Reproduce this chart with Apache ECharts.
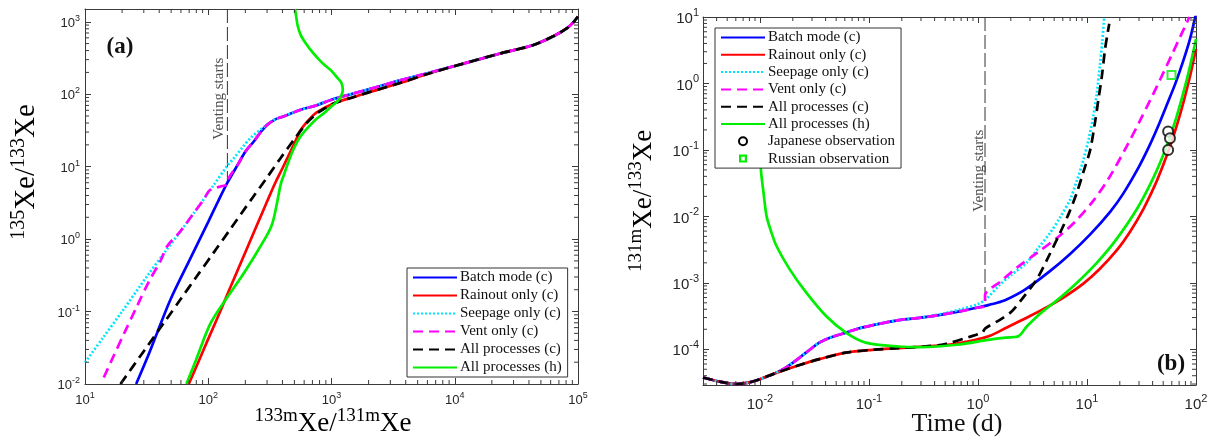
<!DOCTYPE html>
<html><head><meta charset="utf-8">
<script src="https://cdn.jsdelivr.net/npm/echarts@6/dist/echarts.min.js"></script>
<style>html,body{margin:0;padding:0;background:#fff}#c{width:1217px;height:441px}</style>
</head><body><div id="c"></div>
<script>
// ---------- legend names ----------
const names = ['Batch mode (c)','Rainout only (c)','Seepage only (c)','Vent only (c)','All processes (c)','All processes (h)'];
const obsNames = ['Japanese observation','Russian observation'];

// ---------- axis ranges ----------
const aXRange = [10, 1e5], aYRange = [0.01, 1500];
const bXRange = [0.003, 100], bYRange = [2.9e-5, 10];

// ---------- panel (a): 135Xe/133Xe vs 133mXe/131mXe ----------
const aTail = [[10000,245],[23000,362],[43000,475],[63000,630],[81000,810],[92000,990],[100000,1180]];
const aUpper = [[412,49.7],[562,61],[750,70],[1000,84],[1500,102],[2500,130],[3600,155],[6000,195]];
const aLower = [[1050,75],[1500,91],[2000,106],[3600,143],[6000,190]];
const aBatchHead = [[26,0.01],[32,0.023],[39,0.054],[49.5,0.148],[70,0.5],[100,1.73],[120,3.3],[143,6.0],[175,10.9],[201,16.3],[235,22.4],[270,31],[302,38],[350,45]];
const aRainHead = [[69.5,0.01],[85,0.022],[100,0.042],[125,0.1],[150,0.21],[200,0.66],[250,1.6],[300,3.3],[350,6],[400,9.5],[500,21],[562,32],[660,45],[770,57]];
const aSeepHead = [[10,0.0198],[14,0.0435],[20,0.1],[32,0.31],[45,0.68],[60,1.3],[80,2.55],[111,5.6],[143,10.3],[162,13.2],[190,18.5],[221,25],[275,34],[341,44]];
const aVentHead = [[14.2,0.0123],[17.1,0.0245],[21,0.052],[26.5,0.12],[33,0.26],[41,0.5],[46.5,0.8],[59.6,1.29],[75,2.2],[92,3.53],[101,4.6],[110,5.0],[125,5.3],[143,5.7],[143,6.0],[175,10.9],[201,16.3],[235,22.4],[270,31],[302,38],[350,45]];
const aAllCHead = [[19.4,0.01],[30,0.0284],[45,0.075],[60,0.15],[80,0.3],[111,0.656],[150,1.35],[228,3.7],[300,7.1],[387,13.2],[500,24],[638,41],[760,54],[871,63]];
const aAllH = [[66.5,0.01],[80,0.022],[104,0.068],[140,0.15],[183,0.29],[240,0.6],[302,1.16],[325,1.5],[341,1.97],[364,3.35],[387,5.7],[412,7.8],[450,12],[497,18.2],[560,26],[638,34],[750,45],[872,55],[1000,68],[1120,80],[1200,95],[1235,115],[1200,145],[1120,167],[1000,210],[900,245],[817,284],[700,380],[620,500],[562,660],[530,900],[513,1300],[505,1500]];
const aVentLine = [[143,1500],[143,5.8]];
const aVentText = [[123,87]];

// ---------- panel (b): 131mXe/133Xe vs time ----------
const bStart = [[0.003,3.76e-5],[0.0045,3.2e-5],[0.0061,2.99e-5],[0.0078,3.15e-5],[0.01,3.55e-5],[0.0135,4.3e-5]];
const bUpper = [[0.0163,5.0e-5],[0.0195,6.1e-5],[0.0231,7.5e-5],[0.029,1.0e-4],[0.035,1.26e-4],[0.045,1.52e-4],[0.0614,1.78e-4],[0.08,2.05e-4],[0.107,2.29e-4],[0.187,2.75e-4],[0.3,3.0e-4]];
const bLower = [[0.0163,4.8e-5],[0.0231,5.8e-5],[0.035,7.1e-5],[0.0614,8.9e-5],[0.107,9.8e-5],[0.187,1.04e-4],[0.315,1.1e-4]];
const bBatchTail = [[0.48,3.35e-4],[0.7,3.75e-4],[1.0,4.25e-4],[1.16,4.5e-4],[1.5,5.0e-4],[1.83,5.6e-4],[2.7,7.9e-4],[4.57,1.5e-3],[7,2.72e-3],[10.7,5.35e-3],[16.3,0.0117],[21.5,0.022],[30,0.056],[37.8,0.12],[45,0.229],[53.8,0.47],[65,1.02],[76.5,2.2],[88,4.64],[100,11.2]];
const bSeepTail = [[0.48,3.45e-4],[0.7,4.0e-4],[1.0,4.8e-4],[1.16,5.5e-4],[1.6,9.5e-4],[2.0,1.3e-3],[2.79,2.0e-3],[3.6,3.4e-3],[4.57,5.6e-3],[5.7,9.8e-3],[6.98,0.0178],[8.1,0.035],[9.25,0.07],[10.4,0.15],[11.4,0.316],[12.3,0.7],[13.1,1.78],[13.8,4.2],[14.4,10]];
const bVentTail = [[0.48,3.35e-4],[0.7,3.75e-4],[1.0,4.25e-4],[1.16,4.5e-4],[1.16,6.5e-4],[1.6,1.04e-3],[2.25,1.67e-3],[3.5,2.84e-3],[5.65,5.16e-3],[8,8.7e-3],[11.4,0.0171],[16,0.0385],[23,0.111],[30,0.258],[37.8,0.55],[44,0.92],[50,1.43],[60,2.7],[71.3,4.95],[82,8.1],[87,10]];
const bRainTail = [[0.6,1.2e-4],[1.0,1.42e-4],[1.29,1.6e-4],[1.84,2.13e-4],[3,3.16e-4],[4.2,4.23e-4],[6.07,6.0e-4],[9.25,9.73e-4],[13,1.6e-3],[18.7,3.07e-3],[25,5.98e-3],[32.9,0.0129],[42,0.0295],[50,0.0594],[58,0.115],[66.5,0.23],[77,0.533],[88,1.27],[95,2.23],[100,3.3]];
const bAllCTail = [[0.5,1.2e-4],[0.85,1.55e-4],[1.1,1.8e-4],[1.16,2.05e-4],[1.6,2.8e-4],[2.0,3.6e-4],[2.51,5.6e-4],[3.45,1.12e-3],[4.5,2.6e-3],[5.65,5.6e-3],[6.8,0.011],[8.04,0.0224],[9.4,0.05],[10.7,0.1],[11.8,0.25],[12.7,0.56],[13.7,1.3],[14.6,3.16],[15.4,5.5],[16,7.9]];
const bAllH = [[0.0101,0.1],[0.0102,0.05],[0.0108,0.022],[0.0115,0.01],[0.0127,5.8e-3],[0.0142,3.55e-3],[0.0188,1.58e-3],[0.0266,7.1e-4],[0.0404,3.16e-4],[0.0614,1.78e-4],[0.093,1.26e-4],[0.187,1.1e-4],[0.3,1.08e-4],[0.64,1.17e-4],[1.29,1.4e-4],[1.8,1.5e-4],[2.35,1.57e-4],[2.8,2.2e-4],[3.54,3.2e-4],[4.17,4e-4],[5.65,5.94e-4],[8,9.84e-4],[12.3,2.0e-3],[18,4.2e-3],[28.6,0.0128],[40.8,0.0386],[53.8,0.1135],[66.5,0.32],[80,0.95],[90,2.11],[100,4.68]];
const bJapan = [[55.5,0.189],[57.7,0.15],[55.5,0.1]];
const bRussia = [[59.6,1.34]];
const bVentLine = [[1.16,10],[1.16,5.5e-4]];
const bVentText = [[1.02,0.0486]];

// ---------- build ----------
const aBatch = aBatchHead.concat(aUpper, aTail);
const aRain = aRainHead.concat(aLower, aTail);
const aSeep = aSeepHead.concat(aUpper, aTail);
const aVent = aVentHead.concat(aUpper, aTail);
const aAllC = aAllCHead.concat(aLower, aTail);
const bBatch = bStart.concat(bUpper, bBatchTail);
const bSeep = bStart.concat(bUpper, bSeepTail);
const bVent = bStart.concat(bUpper, bVentTail);
const bRain = bStart.concat(bLower, bRainTail);
const bAllC = bStart.concat(bLower, bAllCTail);

// minor ticks of a log axis (2..9 times each power of ten inside the range)
function minorTicks(r){
  const out=[];
  for(let k=Math.floor(Math.log10(r[0])); k<=Math.ceil(Math.log10(r[1])); k++)
    for(let m=2;m<=9;m++){ const v=m*Math.pow(10,k); if(v>r[0]*1.0001 && v<r[1]*0.9999) out.push(v); }
  return out;
}

const styles = [
  {color:'#0000ff', type:'solid'},
  {color:'#ff0000', type:'solid'},
  {color:'#00e5ff', type:[2,2]},
  {color:'#ff00ff', type:[10,6]},
  {color:'#000000', type:[10,6]},
  {color:'#00ee00', type:'solid'}
];
const serif = '"Liberation Serif", "Times New Roman", serif';
const sans = '"Liberation Sans", Arial, sans-serif';
const lineCol = '#3a3a3a';

function lineSeries(name, data, i, xi, yi){
  return {name, type:'line', data, xAxisIndex:xi, yAxisIndex:yi, symbol:'none', smooth:0.3,
    lineStyle:{color:styles[i].color, type:styles[i].type, width:2.7, cap:'butt'},
    itemStyle:{color:styles[i].color, opacity:0}, z: 2 + i*0.1, animation:false};
}
function logFmt(v){ const e=Math.log10(v), r=Math.round(e); return Math.abs(e-r)<1e-6 ? '{b|10}{s|'+r+'}' : ''; }
function labelRich(base, sup){
  return { b:{fontSize:base, fontFamily:sans, color:'#262626', verticalAlign:'bottom'},
           s:{fontSize:sup, fontFamily:sans, color:'#262626', verticalAlign:'bottom', padding:[0,0,Math.round(base*0.55),0]} };
}
function axis(grid, r, pos, showLabel, base, sup, margin){
  return { type:'log', logBase:10, gridIndex:grid, min:r[0], max:r[1], position:pos,
    axisLine:{show:true, lineStyle:{color:lineCol, width:1}},
    axisTick:{show:true, inside:true, length:6, lineStyle:{color:lineCol}},
    minorTick:{show:false}, splitLine:{show:false},
    axisLabel: showLabel ? {show:true, formatter:logFmt, rich:labelRich(base,sup), margin, hideOverlap:false, showMinLabel:true, showMaxLabel:true} : {show:false}
  };
}
function minorTickSeries(xi, yi, xr, yr, dir){
  const vals = minorTicks(dir==='x' ? xr : yr);
  return {type:'custom', xAxisIndex:xi, yAxisIndex:yi, silent:true, z:6, animation:false,
    data: vals.map(v => dir==='x' ? [v, yr[0]] : [xr[0], v]),
    renderItem:(params, api)=>{
      const v = api.value(dir==='x'?0:1);
      const st = {stroke:lineCol, lineWidth:1};
      if(dir==='x'){
        const p1 = api.coord([v, yr[0]]), p2 = api.coord([v, yr[1]]);
        return {type:'group', children:[
          {type:'line', shape:{x1:p1[0],y1:p1[1],x2:p1[0],y2:p1[1]-4}, style:st},
          {type:'line', shape:{x1:p2[0],y1:p2[1],x2:p2[0],y2:p2[1]+4}, style:st}]};
      } else {
        const p1 = api.coord([xr[0], v]), p2 = api.coord([xr[1], v]);
        return {type:'group', children:[
          {type:'line', shape:{x1:p1[0],y1:p1[1],x2:p1[0]+4,y2:p1[1]}, style:st},
          {type:'line', shape:{x1:p2[0],y1:p2[1],x2:p2[0]-4,y2:p2[1]}, style:st}]};
      }
    }};
}

const series = [];
[aBatch,aRain,aSeep,aVent,aAllC,aAllH].forEach((d,i)=>series.push(lineSeries(names[i], d, i, 0, 0)));
[bBatch,bRain,bSeep,bVent,bAllC,bAllH].forEach((d,i)=>series.push(lineSeries(names[i], d, i, 2, 2)));
series.push({name:'ventA', type:'line', data:aVentLine, xAxisIndex:0, yAxisIndex:0, symbol:'none', lineStyle:{color:'#333', width:1, type:[14,4]}, itemStyle:{opacity:0}, z:1, animation:false});
series.push({name:'ventB', type:'line', data:bVentLine, xAxisIndex:2, yAxisIndex:2, symbol:'none', lineStyle:{color:'#333', width:1, type:[14,4]}, itemStyle:{opacity:0}, z:1, animation:false});
const ventLabel = {show:true, formatter:'Venting starts', rotate:90, position:'inside', fontFamily:serif, fontSize:15, color:'#222'};
series.push({name:'ventTextA', type:'scatter', data:aVentText, xAxisIndex:0, yAxisIndex:0, symbolSize:1, itemStyle:{color:'rgba(0,0,0,0)'}, label:ventLabel, silent:true, animation:false});
series.push({name:'ventTextB', type:'scatter', data:bVentText, xAxisIndex:2, yAxisIndex:2, symbolSize:1, itemStyle:{color:'rgba(0,0,0,0)'}, label:ventLabel, silent:true, animation:false});
series.push({name:obsNames[0], type:'scatter', data:bJapan, xAxisIndex:2, yAxisIndex:2, symbol:'emptyCircle', symbolSize:10, itemStyle:{color:'#000', borderColor:'#000', borderWidth:2.2}, z:5, animation:false});
series.push({name:obsNames[1], type:'scatter', data:bRussia, xAxisIndex:2, yAxisIndex:2, symbol:'emptyRect', symbolSize:8, itemStyle:{color:'#00ee00', borderColor:'#00ee00', borderWidth:3}, z:5, animation:false});
series.push(minorTickSeries(0,0,aXRange,aYRange,'x'));
series.push(minorTickSeries(0,0,aXRange,aYRange,'y'));
series.push(minorTickSeries(2,2,bXRange,bYRange,'x'));
series.push(minorTickSeries(2,2,bXRange,bYRange,'y'));

const legendBase = {orient:'vertical', backgroundColor:'#fff', borderColor:'#333', borderWidth:1,
  itemWidth:44, itemHeight:14, padding:[2,6,2,5], selectedMode:false,
  textStyle:{fontFamily:serif, fontSize:15, lineHeight:14, color:'#111', padding:[0,0,0,-2]}};
const circIcon = 'path://M0 0L0.01 0L0 0.01Z M14 14L13.99 14L14 13.99Z M7 2A5 5 0 1 1 7 12A5 5 0 1 1 7 2Z M7 4A3 3 0 1 0 7 10A3 3 0 1 0 7 4Z';
const sqIcon = 'path://M0 0L0.01 0L0 0.01Z M14 14L13.99 14L14 13.99Z M3 3H11V11H3Z M5.2 5.2V8.8H8.8V5.2Z';
const legendBData = names.concat([
  {name:obsNames[0], icon:circIcon, itemStyle:{color:'#000', borderWidth:0, opacity:1}},
  {name:obsNames[1], icon:sqIcon, itemStyle:{color:'#00ee00', borderWidth:0, opacity:1}}
]);

const supRich = (b,s)=>({ b:{fontSize:b, fontFamily:serif, color:'#111', verticalAlign:'bottom'},
  s:{fontSize:s, fontFamily:serif, color:'#111', verticalAlign:'bottom', padding:[0,0,Math.round(b*0.42),0]} });

const option = {
  backgroundColor:'#fff',
  animation:false,
  grid:[
    {left:85, top:9, width:493, height:375, containLabel:false},
    {left:703, top:17, width:493, height:368, containLabel:false}
  ],
  xAxis:[
    axis(0,aXRange,'bottom',true,13,9,7),
    axis(0,aXRange,'top',false),
    axis(1,bXRange,'bottom',true,15,11,8),
    axis(1,bXRange,'top',false)
  ],
  yAxis:[
    axis(0,aYRange,'left',true,13,9,5),
    axis(0,aYRange,'right',false),
    axis(1,bYRange,'left',true,15,11,4),
    axis(1,bYRange,'right',false)
  ],
  legend:[
    Object.assign({}, legendBase, {left:407, top:268, itemGap:3, data:names}),
    Object.assign({}, legendBase, {left:715, top:28, itemGap:2.3, data:legendBData})
  ],
  series,
  graphic:[
    {type:'text', x:333, y:422, style:{text:'{s|133m}{b|Xe/}{s|131m}{b|Xe}', align:'center', verticalAlign:'middle', rich:supRich(27,19)}},
    {type:'text', x:25, y:172, rotation:Math.PI/2, style:{text:'{s|135}{b|Xe/}{s|133}{b|Xe}', align:'center', verticalAlign:'middle', rich:supRich(29,20)}},
    {type:'text', x:957, y:424, style:{text:'Time (d)', fontFamily:serif, fontSize:26, fill:'#111', align:'center', verticalAlign:'middle'}},
    {type:'text', x:642, y:201, rotation:Math.PI/2, style:{text:'{s|131m}{b|Xe/}{s|133}{b|Xe}', align:'center', verticalAlign:'middle', rich:supRich(27,19)}},
    {type:'text', x:120, y:47, style:{text:'(a)', fontFamily:serif, fontWeight:'bold', fontSize:23, fill:'#111', align:'center', verticalAlign:'middle'}},
    {type:'text', x:1171, y:364, style:{text:'(b)', fontFamily:serif, fontWeight:'bold', fontSize:23, fill:'#111', align:'center', verticalAlign:'middle'}}
  ]
};
const chart = echarts.init(document.getElementById('c'), null, {renderer:'canvas'});
chart.setOption(option);
</script></body></html>
